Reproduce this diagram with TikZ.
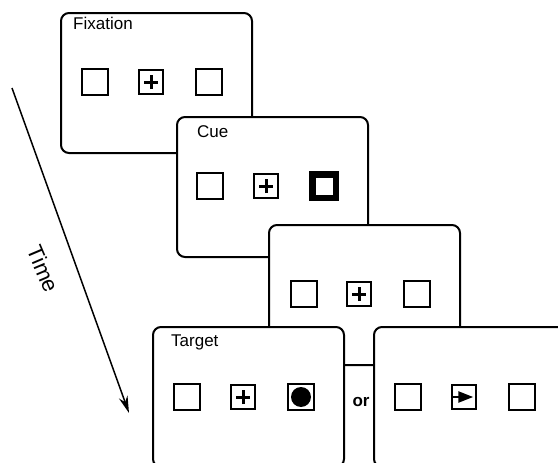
\documentclass[tikz,border=0pt]{standalone}
\usepackage{fontspec}
\setmainfont{Liberation Sans}
\usetikzlibrary{arrows.meta}

\begin{document}
\begin{tikzpicture}[x=1pt,y=-1pt,
  panel/.style={draw,line width=2pt,fill=white,rounded corners=8pt,minimum width=191pt,minimum height=140pt,inner sep=0pt,outer sep=0pt,anchor=north west},
  box/.style={draw,line width=2.2pt,minimum size=25.5pt,inner sep=0pt},
  fixbox/.style={draw,line width=1.7pt,minimum size=24.5pt,inner sep=0pt},
  plusbox/.style={fixbox,path picture={
    \draw[line width=3pt] ([xshift=-7pt]path picture bounding box.center) -- ([xshift=7pt]path picture bounding box.center)
      ([yshift=-7pt]path picture bounding box.center) -- ([yshift=7pt]path picture bounding box.center);}},
  arrowbox/.style={fixbox,path picture={
    \draw[line width=2.4pt,-{Triangle[length=15pt,width=11pt]}] (path picture bounding box.west) -- ([xshift=-3pt]path picture bounding box.east);}},
  dotbox/.style={box,path picture={\fill (path picture bounding box.center) circle (10pt);}},
  cuebox/.style={draw,line width=6.5pt,minimum size=23.5pt,inner sep=0pt},
  label/.style={font=\fontsize{17}{20}\selectfont,inner sep=0pt,anchor=base west}]
\useasboundingbox (0,0) rectangle (558,463);

% time arrow
\coordinate (t0) at (12,88);
\coordinate (t1) at (129,413);
\draw[line width=1.5pt,-{Stealth[length=17pt,width=9pt]}] (t0) -- (t1);
\node[font=\fontsize{22}{26}\selectfont,rotate=-67] (time) at (43,269) {Time};

% fixation
\node[panel] (fix) at (61,13) {};
\node[label] (fixlab) at (73,29) {Fixation};
\node[box] (fixl) at (95,82) {};
\node[plusbox] (fixm) at (151,82) {};
\node[box] (fixr) at (209,82) {};

% cue
\node[panel] (cue) at (177,117) {};
\node[label] (cuelab) at (197,137) {Cue};
\node[box] (cuel) at (210,186) {};
\node[plusbox] (cuem) at (266,186) {};
\node[cuebox] (cuer) at (324,186) {};

% delay
\node[panel] (del) at (269,225) {};
\node[box] (dell) at (304,294) {};
\node[plusbox] (delm) at (359,294) {};
\node[box] (delr) at (417,294) {};

% target
\node[panel] (tar) at (153,327) {};
\node[label] (tarlab) at (171,346) {Target};
\node[box] (tarl) at (187,397) {};
\node[plusbox] (tarm) at (243,397) {};
\node[dotbox] (tarr) at (301,397) {};

\node[font=\fontsize{17}{20}\selectfont\bfseries,inner sep=0pt,anchor=base] (or) at (361,406) {or};

% alternative target
\node[panel] (alt) at (374,327) {};
\node[box] (altl) at (408,397) {};
\node[arrowbox] (altm) at (464,397) {};
\node[box] (altr) at (522,397) {};
\end{tikzpicture}
\end{document}
